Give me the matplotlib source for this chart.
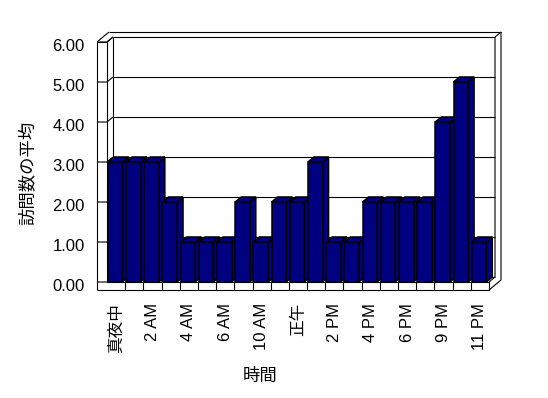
import numpy as np
import matplotlib
matplotlib.use('Agg')
import matplotlib.pyplot as plt
import matplotlib.transforms as mtransforms
from matplotlib.patches import Polygon

plt.rcParams['font.family'] = ['Liberation Sans', 'Noto Sans CJK JP']

# hourly categories (only every other one is labelled on the axis)
hours = ['真夜中', '1 AM', '2 AM', '3 AM', '4 AM', '5 AM', '6 AM', '9 AM',
         '10 AM', '11 AM', '正午', '1 PM', '2 PM', '3 PM', '4 PM', '5 PM',
         '6 PM', '8 PM', '9 PM', '10 PM', '11 PM']
visits = [3, 3, 3, 2, 1, 1, 1, 2, 1, 2, 2, 3, 1, 1, 2, 2, 2, 2, 4, 5, 1]
yticks = [0, 1, 2, 3, 4, 5, 6]

W, H = 548, 398
fig = plt.figure(figsize=(W / 100, H / 100), dpi=100)
fig.patch.set_facecolor('white')
# front plane of the fake 3d box
ax = fig.add_axes([107 / W, (H - 282) / H, 382 / W, 240 / H])
n = len(hours)
ax.set_xlim(0, n)
ax.set_ylim(0, 6)
for s in ax.spines.values():
    s.set_visible(False)

# depth offset (about 6px right, 5px up) in data units
DX = 6 / (382 / n)
DY = 5 / 40
WL = 10 / (382 / n)   # side wall thickness
FL = 0.2              # floor thickness

lw = 0.8
def line(xs, ys, z=1):
    ax.plot(xs, ys, color='k', lw=lw, clip_on=False, zorder=z,
            solid_capstyle='butt')

# back wall gridlines + side wall ticks
for v in yticks:
    if 0 < v < 6:
        line([DX, n + DX], [v + DY, v + DY])
    line([-WL, 0, DX], [v, v, v + DY])

# side wall
line([-WL, -WL], [6, -FL])
line([0, 0], [6, 0])
line([DX, DX], [6 + DY, DY])
line([-WL, -WL + 2 * DX], [6, 6 + 2 * DY])
line([0, DX], [6, 6 + DY])
line([-WL, 0], [6, 6])
# back wall top and right
line([-WL + 2 * DX, n + 2 * DX], [6 + 2 * DY, 6 + 2 * DY])
line([DX, n + DX], [6 + DY, 6 + DY])
line([n + DX, n + 2 * DX], [6 + DY, 6 + 2 * DY])
line([n + 2 * DX, n + 2 * DX, n], [6 + 2 * DY, -FL + 2 * DY, -FL])
line([n + DX, n + DX, n], [6 + DY, DY, 0])
line([DX, n + DX], [DY, DY])
# floor
line([-WL, n, n], [-FL, -FL, 0])
line([0, n], [0, 0])
for k in range(1, n):
    line([k, k], [0, -FL])

# bars
navy = '#000080'
a, w = 0.05, 0.8
for i, h in enumerate(visits):
    x0, x1 = i + a, i + a + w
    side = [(x1, 0), (x1, h), (x1 + DX, h + DY), (x1 + DX, DY)]
    top = [(x0, h), (x1, h), (x1 + DX, h + DY), (x0 + DX, h + DY)]
    front = [(x0, 0), (x1, 0), (x1, h), (x0, h)]
    for pts in (side, top, front):
        ax.add_patch(Polygon(pts, closed=True, facecolor=navy,
                             edgecolor='k', lw=1.1, zorder=3, clip_on=False))

ax.set_yticks(yticks, labels=[f'{v:.2f}' for v in yticks])
ax.tick_params(axis='y', length=0, pad=16, labelsize=12)
offset = mtransforms.ScaledTranslation(0, -3 / 100, fig.dpi_scale_trans)
for lab in ax.get_yticklabels():
    lab.set_transform(lab.get_transform() + offset)

ax.set_xticks(np.arange(0, n, 2) + 0.5, labels=hours[::2], rotation=90)
ax.tick_params(axis='x', length=0, pad=15, labelsize=12)

fig.text(27 / W, 1 - 173 / H, '訪問数の平均', rotation=90, ha='center',
         va='center', fontsize=12.5)
fig.text(260 / W, 1 - 376 / H, '時間', ha='center', va='center', fontsize=12.5)

fig.savefig('out.png', dpi=100)
